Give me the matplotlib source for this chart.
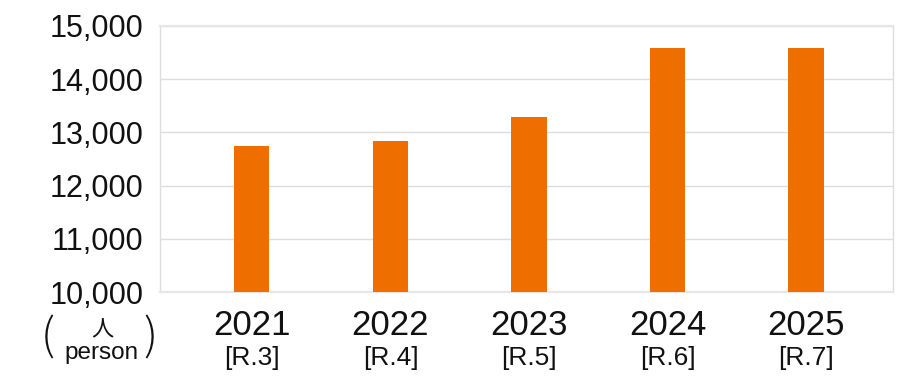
import matplotlib
matplotlib.use("Agg")
import matplotlib.pyplot as plt
from matplotlib.ticker import FuncFormatter

years = ["2021", "2022", "2023", "2024", "2025"]
reiwa = ["[R.3]", "[R.4]", "[R.5]", "[R.6]", "[R.7]"]
values = [12740, 12830, 13285, 14580, 14580]
yticks = [10000, 11000, 12000, 13000, 14000, 15000]

plt.rcParams['font.family'] = ['Liberation Sans', 'Noto Sans CJK JP', 'DejaVu Sans']

fig = plt.figure(figsize=(9.2, 3.8), dpi=100)
W, H = 920, 380
ax = fig.add_axes([160 / W, 1 - 292 / H, (893 - 160) / W, (292 - 26) / H])

x = list(range(len(years)))
ax.bar(x, values, width=0.253, color="#EE6E00", zorder=3)

ax.set_ylim(10000, 15000)
ax.set_xlim(-0.664, 4.628)
ax.set_yticks(yticks)
ax.yaxis.set_major_formatter(FuncFormatter(lambda v, p: f"{int(v):,}"))
ax.tick_params(axis='y', length=0, pad=12, labelsize=22, labelcolor="#111111")
ax.set_xticks([])
ax.grid(axis='y', color="#dddddd", linewidth=1.0, zorder=0)
for s in ax.spines.values():
    s.set_color("#dddddd")
    s.set_linewidth(1.0)
ax.spines['top'].set_linewidth(1.6)
ax.spines['top'].set_color("#e6e6e6")
ax.spines['bottom'].set_linewidth(1.6)
ax.spines['bottom'].set_color("#e6e6e6")

trans = ax.get_xaxis_transform()
for xi, yr, rw in zip(x, years, reiwa):
    ax.text(xi, -(325.5 - 292) / (292 - 26), yr, transform=trans,
            ha='center', va='center', fontsize=25, color="#111111")
    ax.text(xi, -(358 - 292) / (292 - 26), rw, transform=trans,
            ha='center', va='center', fontsize=19, color="#111111")

fig.text(48 / W, 1 - 338.5 / H, "(", ha='center', va='center', fontsize=32,
         family=['Noto Sans CJK JP'], fontweight='light', color="#111111")
fig.text(150 / W, 1 - 338.5 / H, ")", ha='center', va='center', fontsize=32,
         family=['Noto Sans CJK JP'], fontweight='light', color="#111111")
fig.text(102 / W, 1 - 330 / H, "人", ha='center', va='center', fontsize=16,
         family=['Noto Sans CJK JP'], color="#111111")
fig.text(102 / W, 1 - 353 / H, "person", ha='center', va='center', fontsize=17.5, color="#111111")

fig.savefig("out.png", dpi=100)
